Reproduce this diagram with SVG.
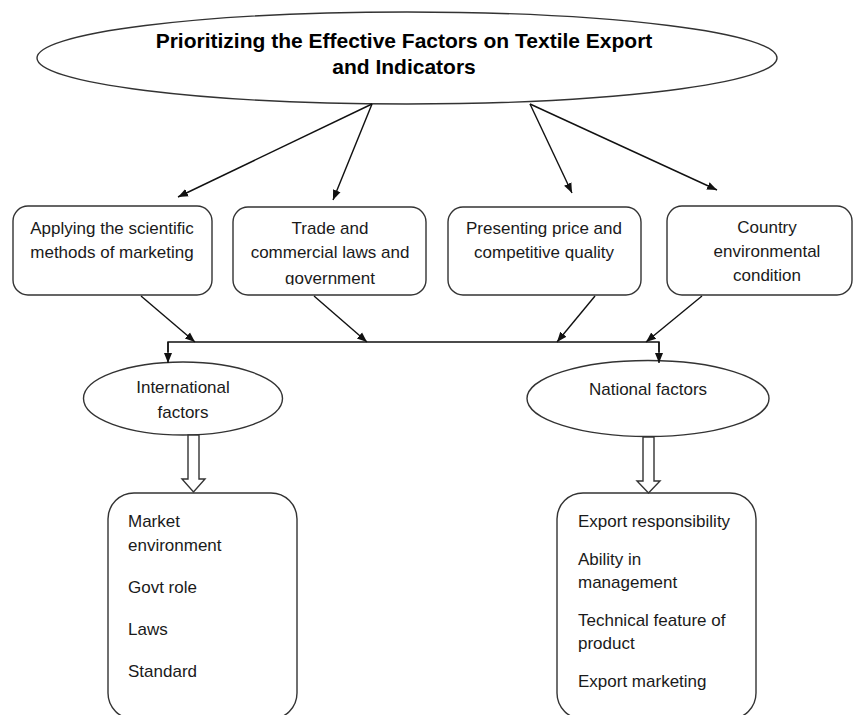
<svg xmlns="http://www.w3.org/2000/svg" width="853" height="715" viewBox="0 0 853 715">
<style>
.shape{fill:#fff;stroke:#333;stroke-width:1.4}
.lbl{font-family:"Liberation Sans",Arial,sans-serif;font-size:17px;fill:#1a1a1a}
.ttl{font-family:"Liberation Sans",Arial,sans-serif;font-size:21px;font-weight:bold;fill:#000}
.con{fill:none;stroke:#111;stroke-width:1.4}
</style>
<defs>
<marker id="ah" markerUnits="userSpaceOnUse" markerWidth="10" markerHeight="10" viewBox="0 0 10 10" refX="10" refY="5" orient="auto">
<path d="M0,1 L10,5 L0,9 Z" fill="#111"/>
</marker>
<clipPath id="clip2"><rect x="232" y="205" width="197" height="80"/></clipPath>
</defs>
<rect width="853" height="715" fill="#fff"/>

<g id="title">
<ellipse class="shape" cx="407" cy="58" rx="370" ry="46"/>
<text class="ttl" x="404" y="48" text-anchor="middle">Prioritizing the Effective Factors on Textile Export</text>
<text class="ttl" x="404" y="74" text-anchor="middle">and Indicators</text>
</g>

<g id="box-marketing">
<rect class="shape" x="13" y="206" width="199" height="89" rx="15"/>
<text class="lbl" x="112" y="234" text-anchor="middle">Applying the scientific</text>
<text class="lbl" x="112" y="258" text-anchor="middle">methods of marketing</text>
</g>

<g id="box-trade">
<rect class="shape" x="233" y="207" width="193" height="88" rx="15"/>
<g clip-path="url(#clip2)">
<text class="lbl" x="330" y="234" text-anchor="middle">Trade and</text>
<text class="lbl" x="330" y="258" text-anchor="middle">commercial laws and</text>
<text class="lbl" x="330" y="284" text-anchor="middle">government</text>
</g>
</g>

<g id="box-price">
<rect class="shape" x="448" y="207" width="193" height="88" rx="15"/>
<text class="lbl" x="544" y="234" text-anchor="middle">Presenting price and</text>
<text class="lbl" x="544" y="258" text-anchor="middle">competitive quality</text>
</g>

<g id="box-country">
<rect class="shape" x="667" y="206" width="185" height="89" rx="15"/>
<text class="lbl" x="767" y="233" text-anchor="middle">Country</text>
<text class="lbl" x="767" y="257" text-anchor="middle">environmental</text>
<text class="lbl" x="767" y="281" text-anchor="middle">condition</text>
</g>

<g id="international">
<ellipse class="shape" cx="183" cy="398.5" rx="99.5" ry="36.5"/>
<text class="lbl" x="183" y="393" text-anchor="middle">International</text>
<text class="lbl" x="183" y="418" text-anchor="middle">factors</text>
</g>

<g id="national">
<ellipse class="shape" cx="648" cy="398.5" rx="121" ry="38"/>
<text class="lbl" x="648" y="395" text-anchor="middle">National factors</text>
</g>

<g id="international-list">
<rect class="shape" x="108" y="493" width="189" height="226" rx="26"/>
<text class="lbl" x="128" y="527">Market</text>
<text class="lbl" x="128" y="551">environment</text>
<text class="lbl" x="128" y="593">Govt role</text>
<text class="lbl" x="128" y="635">Laws</text>
<text class="lbl" x="128" y="677">Standard</text>
</g>

<g id="national-list">
<rect class="shape" x="557" y="493" width="199" height="226" rx="26"/>
<text class="lbl" x="578" y="527">Export responsibility</text>
<text class="lbl" x="578" y="565">Ability in</text>
<text class="lbl" x="578" y="588">management</text>
<text class="lbl" x="578" y="626">Technical feature of</text>
<text class="lbl" x="578" y="649">product</text>
<text class="lbl" x="578" y="687">Export marketing</text>
</g>

<g id="connectors">
<line class="con" x1="372" y1="104" x2="178" y2="197" marker-end="url(#ah)"/>
<line class="con" x1="372" y1="104" x2="333" y2="200" marker-end="url(#ah)"/>
<line class="con" x1="530" y1="104" x2="572" y2="193" marker-end="url(#ah)"/>
<line class="con" x1="530" y1="104" x2="717" y2="190" marker-end="url(#ah)"/>
<line class="con" x1="141" y1="296" x2="195" y2="342" marker-end="url(#ah)"/>
<line class="con" x1="314" y1="296" x2="367" y2="342" marker-end="url(#ah)"/>
<line class="con" x1="595" y1="296" x2="557" y2="342" marker-end="url(#ah)"/>
<line class="con" x1="702" y1="296" x2="646" y2="342" marker-end="url(#ah)"/>
<polyline class="con" points="168,352 168,342 659,342 659,352"/>
<line class="con" x1="168" y1="342" x2="168" y2="363" marker-end="url(#ah)"/>
<line class="con" x1="659" y1="342" x2="659" y2="363" marker-end="url(#ah)"/>
<polygon class="shape" points="188,435 199,435 199,479 205,479 193.5,492 182,479 188,479"/>
<polygon class="shape" points="643,437 654,437 654,481 660,481 648.5,493 637,481 643,481"/>
</g>
</svg>
